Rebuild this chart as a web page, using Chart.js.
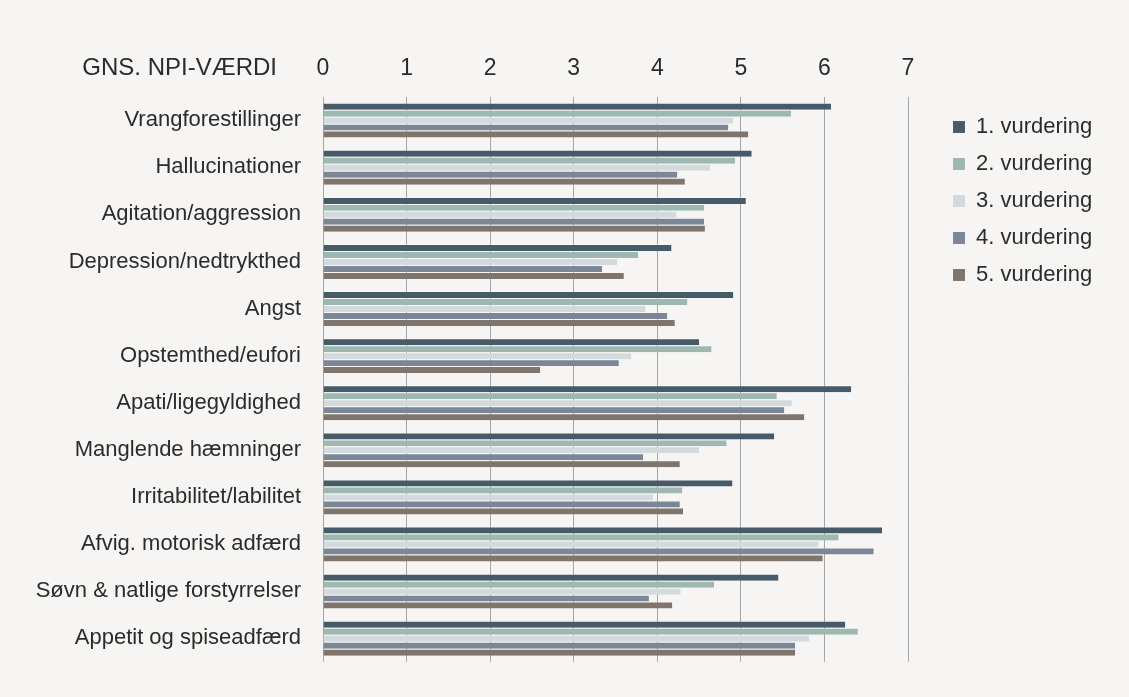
<!DOCTYPE html>
<html lang="da">
<head>
    <meta charset="UTF-8">
    <title>NPI-værdi</title>
    <script src="https://cdn.jsdelivr.net/npm/chart.js"></script>
    <style>
        html, body {
            margin: 0;
            padding: 0;
            background: #f6f5f3;
        }
        .chart-container {
            width: 1129px;
            height: 697px;
        }
    </style>
</head>
<body>
    <div class="chart-container">
        <canvas id="npiChart"></canvas>
    </div>
    <script>
        const categories = [
            'Vrangforestillinger', 'Hallucinationer', 'Agitation/aggression',
            'Depression/nedtrykthed', 'Angst', 'Opstemthed/eufori',
            'Apati/ligegyldighed', 'Manglende hæmninger', 'Irritabilitet/labilitet',
            'Afvig. motorisk adfærd', 'Søvn & natlige forstyrrelser', 'Appetit og spiseadfærd'
        ];
        const seriesNames = ['1. vurdering', '2. vurdering', '3. vurdering', '4. vurdering', '5. vurdering'];
        const vurdering1 = [6.08, 5.13, 5.06, 4.17, 4.91, 4.50, 6.32, 5.40, 4.90, 6.69, 5.45, 6.25];
        const vurdering2 = [5.60, 4.93, 4.56, 3.77, 4.36, 4.65, 5.43, 4.83, 4.30, 6.17, 4.68, 6.40];
        const vurdering3 = [4.91, 4.63, 4.23, 3.52, 3.86, 3.69, 5.61, 4.50, 3.95, 5.93, 4.28, 5.82];
        const vurdering4 = [4.85, 4.24, 4.56, 3.34, 4.12, 3.54, 5.52, 3.83, 4.27, 6.59, 3.90, 5.65];
        const vurdering5 = [5.09, 4.33, 4.57, 3.60, 4.21, 2.60, 5.76, 4.27, 4.31, 5.98, 4.18, 5.65];
        const colors = ['#465a68', '#9cb8b0', '#d3dadd', '#7b8796', '#7f756c'];
        const axisTitle = 'GNS. NPI-VÆRDI';

        const fontFamily = '"Liberation Sans", Arial, sans-serif';
        const textColor = '#2b2b2b';

        // draws the axis caption left of the top tick labels
        const axisCaption = {
            id: 'axisCaption',
            afterDraw(chart) {
                const ctx = chart.ctx;
                const x = chart.scales.x;
                ctx.save();
                ctx.font = '24px ' + fontFamily;
                ctx.fillStyle = textColor;
                ctx.textAlign = 'right';
                ctx.textBaseline = 'middle';
                ctx.fillText(axisTitle, x.getPixelForValue(0) - 46, chart.chartArea.top - 28);
                ctx.restore();
            }
        };

        // legend sits to the right of the plot with a wider gap than chart.js gives
        const legendPlace = {
            id: 'legendPlace',
            beforeInit(chart) {
                const fit = chart.legend.fit;
                chart.legend.fit = function () {
                    fit.call(this);
                    this.width = 221;
                };
            },
            afterLayout(chart) {
                chart.legend.left = chart.chartArea.right + 30;
                chart.legend.top = 101;
            }
        };

        const allValues = [vurdering1, vurdering2, vurdering3, vurdering4, vurdering5];
        const datasets = allValues.map((vals, i) => ({
            label: seriesNames[i],
            data: vals,
            backgroundColor: colors[i],
            borderColor: 'rgba(255,255,255,0.3)',
            borderWidth: { top: 1, bottom: 0, left: 0, right: 0 },
            borderSkipped: false,
            barPercentage: 1.0,
            categoryPercentage: 0.74
        }));

        new Chart(document.getElementById('npiChart'), {
            type: 'bar',
            data: { labels: categories, datasets: datasets },
            plugins: [axisCaption, legendPlace],
            options: {
                indexAxis: 'y',
                responsive: true,
                maintainAspectRatio: false,
                animation: false,
                layout: {
                    padding: { top: 41, bottom: 31, left: 0, right: 0 }
                },
                scales: {
                    x: {
                        position: 'top',
                        min: 0,
                        max: 7,
                        ticks: {
                            stepSize: 1,
                            padding: 14,
                            color: textColor,
                            font: { family: fontFamily, size: 23 }
                        },
                        grid: {
                            color: '#a5a5a5',
                            lineWidth: 1,
                            drawTicks: false
                        },
                        border: { display: false }
                    },
                    y: {
                        afterFit(scale) {
                            scale.width = 323;
                        },
                        ticks: {
                            padding: 22,
                            color: textColor,
                            font: { family: fontFamily, size: 22 }
                        },
                        grid: { display: false, drawTicks: false },
                        border: { display: false }
                    }
                },
                plugins: {
                    legend: {
                        position: 'right',
                        align: 'start',
                        labels: {
                            boxWidth: 12,
                            boxHeight: 12,
                            padding: 15,
                            color: textColor,
                            font: { family: fontFamily, size: 22 }
                        }
                    },
                    tooltip: { enabled: false }
                }
            }
        });
    </script>
</body>
</html>
